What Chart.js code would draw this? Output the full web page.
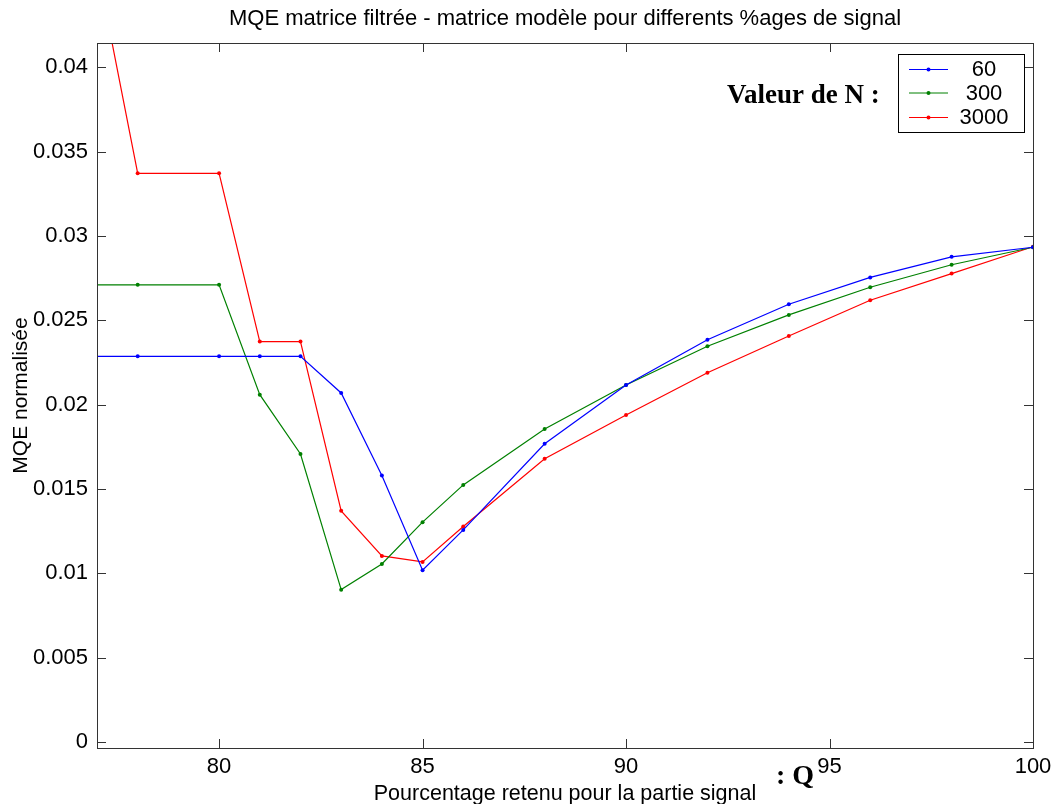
<!DOCTYPE html>
<html>
<head>
<meta charset="utf-8">
<script src="https://cdn.jsdelivr.net/npm/chart.js@4.4.1/dist/chart.umd.min.js"></script>
<style>
html,body{margin:0;padding:0;background:#fff;}
#wrap{width:1051px;height:804px;position:relative;}
</style>
</head>
<body>
<div id="wrap"><canvas id="c" width="1051" height="804"></canvas></div>
<script>
// ---- data ----
const categories = [76, 78, 80, 81, 82, 83, 84, 85, 86, 88, 90, 92, 94, 96, 98, 100];
const seriesN60   = [0.02286, 0.02286, 0.02286, 0.02286, 0.02286, 0.02069, 0.01580, 0.01018, 0.01257, 0.01768, 0.02116, 0.02385, 0.02595, 0.02754, 0.02876, 0.02933];
const seriesN300  = [0.02710, 0.02710, 0.02710, 0.02059, 0.01707, 0.00903, 0.01055, 0.01303, 0.01524, 0.01855, 0.02116, 0.02346, 0.02532, 0.02696, 0.02829, 0.02933];
const seriesN3000 = [0.05830, 0.03371, 0.03371, 0.02374, 0.02374, 0.01370, 0.01103, 0.01067, 0.01277, 0.01679, 0.01938, 0.02189, 0.02407, 0.02619, 0.02777, 0.02936];
const seriesNames = ['60', '300', '3000'];
const xTickValues = [80, 85, 90, 95, 100];
const xTickLabels = ['80', '85', '90', '95', '100'];
const yTickValues = [0, 0.005, 0.01, 0.015, 0.02, 0.025, 0.03, 0.035, 0.04];
const yTickLabels = ['0', '0.005', '0.01', '0.015', '0.02', '0.025', '0.03', '0.035', '0.04'];
const titleText = 'MQE matrice filtrée - matrice modèle pour differents %ages de signal';
const xTitleText = 'Pourcentage retenu pour la partie signal';
const yTitleText = 'MQE normalisée';
const legendHeading = 'Valeur de N :';
const xAxisNote = ': Q';

// ---- styles ----
const colors = ['#0000ff', '#008000', '#ff0000'];
const FONT = 'Liberation Sans, Arial, Helvetica, sans-serif';
const SERIF = 'Liberation Serif, Times New Roman, serif';
const AXIS_COLOR = '#333333';

function pts(vals) { return categories.map((x, i) => ({x: x, y: vals[i]})); }
const allSeries = [seriesN60, seriesN300, seriesN3000];
const datasets = allSeries.map((s, i) => ({
  label: seriesNames[i],
  data: pts(s),
  borderColor: colors[i],
  backgroundColor: colors[i],
  borderWidth: 1.2,
  pointRadius: 2,
  pointHoverRadius: 2,
  pointBorderWidth: 0,
  tension: 0
}));

const framePlugin = {
  id: 'frame',
  afterDraw(chart) {
    const {ctx, chartArea: a, scales} = chart;
    const xs = scales.x, ys = scales.y;
    ctx.save();
    // frame
    ctx.strokeStyle = AXIS_COLOR;
    ctx.lineWidth = 1;
    ctx.strokeRect(Math.round(a.left) + 0.5, Math.round(a.top) + 0.5, Math.round(a.right - a.left), Math.round(a.bottom - a.top));
    // inward ticks
    const TL = 9;
    ctx.beginPath();
    xTickValues.forEach(v => {
      const px = Math.round(xs.getPixelForValue(v)) + 0.5;
      ctx.moveTo(px, a.bottom); ctx.lineTo(px, a.bottom - TL);
      ctx.moveTo(px, a.top); ctx.lineTo(px, a.top + TL);
    });
    yTickValues.forEach(v => {
      const py = Math.round(ys.getPixelForValue(v)) + 0.5;
      ctx.moveTo(a.left, py); ctx.lineTo(a.left + TL, py);
      ctx.moveTo(a.right, py); ctx.lineTo(a.right - TL, py);
    });
    ctx.stroke();

    // legend box
    const bx = 898, by = 54, bw = 126, bh = 78;
    ctx.fillStyle = '#ffffff';
    ctx.fillRect(bx, by, bw, bh);
    ctx.strokeStyle = '#000000';
    ctx.strokeRect(bx + 0.5, by + 0.5, bw, bh);
    const rowsY = [69, 92.5, 117];
    chart.data.datasets.forEach((ds, i) => {
      const y = rowsY[i];
      ctx.strokeStyle = ds.borderColor;
      ctx.lineWidth = 1;
      ctx.beginPath();
      ctx.moveTo(909, y + 0.5); ctx.lineTo(948, y + 0.5);
      ctx.stroke();
      ctx.fillStyle = ds.borderColor;
      ctx.beginPath();
      ctx.arc(928.5, y + 0.5, 2, 0, Math.PI * 2);
      ctx.fill();
      ctx.fillStyle = '#000';
      ctx.font = '22px ' + FONT;
      ctx.textAlign = 'center';
      ctx.textBaseline = 'middle';
      ctx.fillText(ds.label, 984, y + 1);
    });

    // annotations
    ctx.fillStyle = '#000';
    ctx.font = 'bold 27px ' + SERIF;
    ctx.textAlign = 'left';
    ctx.textBaseline = 'alphabetic';
    ctx.fillText(legendHeading, 727, 103);
    ctx.font = 'bold 28px ' + SERIF;
    ctx.fillText(xAxisNote, 776, 784);
    ctx.restore();
  }
};

const tickFont = {family: FONT, size: 22};

new Chart(document.getElementById('c'), {
  type: 'line',
  data: {datasets: datasets},
  options: {
    responsive: false,
    animation: false,
    devicePixelRatio: 1,
    layout: {padding: {left: 0, right: 18, top: 0, bottom: 0}},
    plugins: {
      legend: {display: false},
      tooltip: {enabled: false},
      title: {
        display: true,
        fullSize: false,
        text: titleText,
        color: '#000',
        font: {family: FONT, size: 22, weight: 'normal'},
        padding: {top: 6, bottom: 10.6}
      }
    },
    scales: {
      x: {
        type: 'linear',
        min: 77,
        max: 100,
        afterBuildTicks: s => { s.ticks = xTickValues.map(v => ({value: v})); },
        afterFit: s => { s.height = 56; s.paddingLeft = 0; s.paddingRight = 0; },
        grid: {display: false},
        border: {display: false},
        ticks: {
          color: '#000', font: tickFont, padding: -2, maxRotation: 0, autoSkip: false,
          callback: v => { const i = xTickValues.indexOf(v); return i >= 0 ? xTickLabels[i] : ''; }
        },
        title: {display: true, text: xTitleText, color: '#000', font: {family: FONT, size: 21.5}, padding: {top: 0, bottom: -3}}
      },
      y: {
        type: 'linear',
        min: -0.00036,
        max: 0.04144,
        afterBuildTicks: s => { s.ticks = yTickValues.map(v => ({value: v})); },
        afterFit: s => { s.width = 97; s.paddingTop = 0; s.paddingBottom = 0; },
        grid: {display: false},
        border: {display: false},
        ticks: {
          color: '#000', font: tickFont, padding: 1, autoSkip: false,
          callback: v => {
            let best = -1, bd = 1;
            yTickValues.forEach((t, i) => { const d = Math.abs(t - v); if (d < bd) { bd = d; best = i; } });
            return bd < 1e-9 ? yTickLabels[best] : '';
          }
        },
        title: {display: true, text: yTitleText, color: '#000', font: {family: FONT, size: 21}, padding: {top: 9, bottom: 0}}
      }
    }
  },
  plugins: [framePlugin]
});
</script>
</body>
</html>
